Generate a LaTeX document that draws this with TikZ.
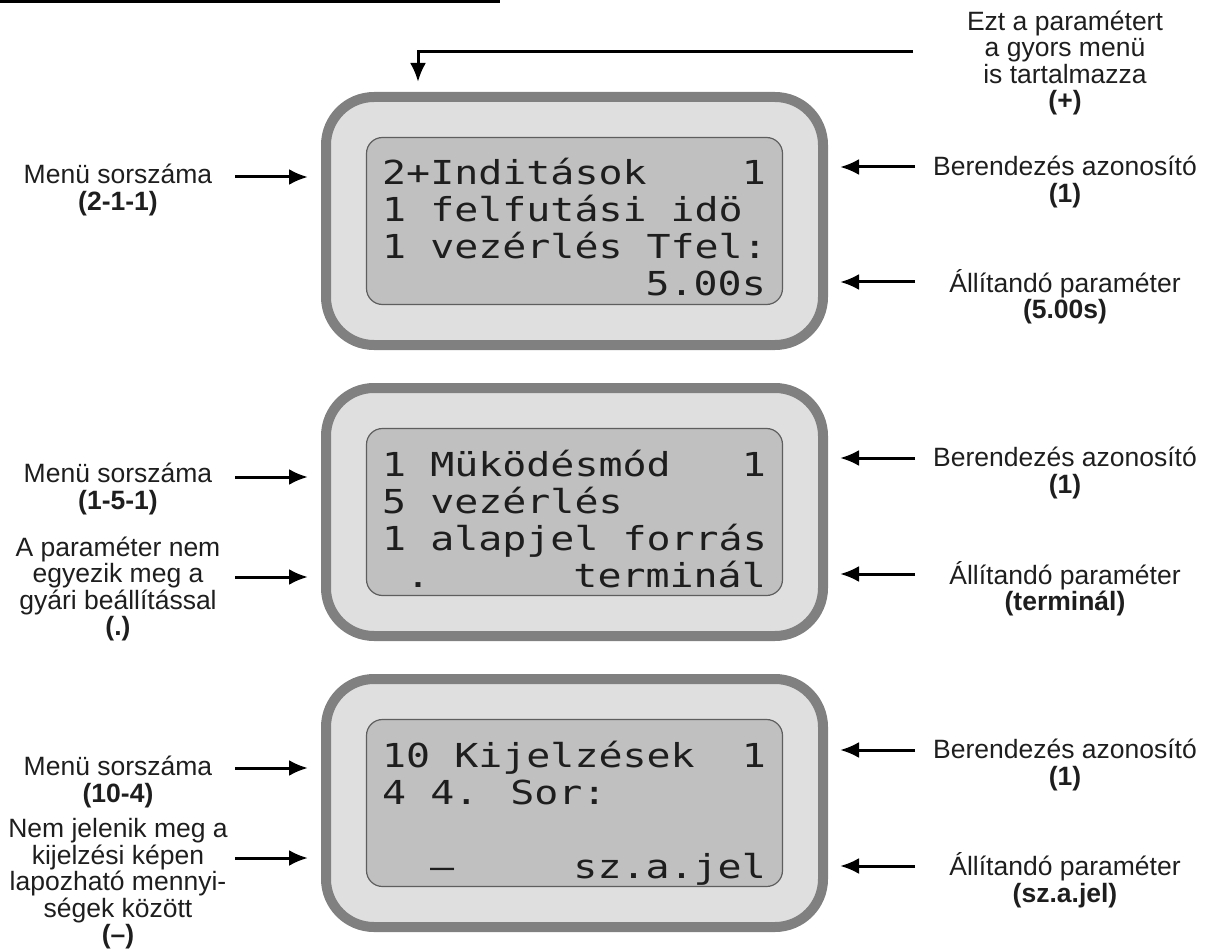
\documentclass[tikz,border=0pt]{standalone}
\usepackage{fontspec}
\setmainfont{Liberation Sans}
\newfontfamily\lcdfont[FakeStretch=1.21]{DejaVu Sans Mono}
\usetikzlibrary{arrows.meta,positioning}
\definecolor{framegray}{HTML}{808080}
\definecolor{bezelgray}{HTML}{DFDFDF}
\definecolor{lcdgray}{HTML}{C0C0C0}
\definecolor{lcdedge}{HTML}{5E5E5E}
\definecolor{lcdink}{HTML}{1E1E1E}

\begin{document}
\begin{tikzpicture}[x=1pt,y=-1pt]
	\tikzstyle{display} = [rectangle, draw=framegray, fill=bezelgray, line width=10pt, outer sep=0pt, rounded corners=48pt, minimum width=497pt, minimum height=248pt]
	\tikzstyle{lcd} = [rectangle, draw=lcdedge, fill=lcdgray, line width=1.2pt, rounded corners=16pt, minimum width=416pt, minimum height=167pt]
	\tikzstyle{row} = [inner sep=0pt, text=lcdink, font=\lcdfont\fontsize{33}{37}\selectfont]
	\tikzstyle{note} = [align=center, inner sep=0pt, text=lcdink, font=\fontsize{26.5}{26.5}\selectfont]
	\tikzstyle{pointer} = [draw, line width=3pt, -{Latex[length=19pt,width=16pt]}]
	\useasboundingbox (0,0) rectangle (1206,949);
	\draw[line width=3pt] (0,1.5) -- (500,1.5);

	% the three displays
	\node [display] (scr1) at (574.5,221) {};
	\node [display, below=43pt of scr1] (scr2) {};
	\node [display, below=43pt of scr2] (scr3) {};
	\node [lcd] (lcd1) at (scr1) {};
	\node [lcd] (lcd2) at (scr2) {};
	\node [lcd] (lcd3) at (scr3) {};

	\begin{scope}[shift={(scr1.center)}]
		\node [row, anchor=base west] (r11) at (-192.5,-36) {2+Inditások};
		\node [row, anchor=base east] (r11b) at (191.5,-36) {1};
		\node [row, anchor=base west] (r12) at (-192.5,1) {1 felfutási idö};
		\node [row, anchor=base west] (r13) at (-192.5,38) {1 vezérlés Tfel:};
		\node [row, anchor=base east] (r14) at (191.5,75) {5.00s};
	\end{scope}
	\begin{scope}[shift={(scr2.center)}]
		\node [row, anchor=base west] (r21) at (-192.5,-36) {1 Müködésmód};
		\node [row, anchor=base east] (r21b) at (191.5,-36) {1};
		\node [row, anchor=base west] (r22) at (-192.5,1) {5 vezérlés};
		\node [row, anchor=base west] (r23) at (-192.5,38) {1 alapjel forrás};
		\node [row, anchor=base west] (r24a) at (-168.5,75) {.};
		\node [row, anchor=base east] (r24) at (191.5,75) {terminál};
	\end{scope}
	\begin{scope}[shift={(scr3.center)}]
		\node [row, anchor=base west] (r31) at (-192.5,-36) {10 Kijelzések};
		\node [row, anchor=base east] (r31b) at (191.5,-36) {1};
		\node [row, anchor=base west] (r32) at (-192.5,1) {4 4. Sor:};
		\node [row, anchor=base west] (r34a) at (-144.5,75) {–};
		\node [row, anchor=base east] (r34) at (191.5,75) {sz.a.jel};
	\end{scope}

	% labels
	\node [note] (quick) at (1065,63) {Ezt a paramétert\\a gyors menü\\is tartalmazza\\\textbf{(+)}};
	\node [note] (ident1) at (1065,182) {Berendezés azonosító\\\textbf{(1)}};
	\node [note] (value1) at (1065,297) {Állítandó paraméter\\\textbf{(5.00s)}};
	\node [note] (ident2) at (1065,473) {Berendezés azonosító\\\textbf{(1)}};
	\node [note] (value2) at (1065,589) {Állítandó paraméter\\\textbf{(terminál)}};
	\node [note] (ident3) at (1065,765) {Berendezés azonosító\\\textbf{(1)}};
	\node [note] (value3) at (1065,880) {Állítandó paraméter\\\textbf{(sz.a.jel)}};
	\node [note] (menu1) at (118,190) {Menü sorszáma\\\textbf{(2-1-1)}};
	\node [note] (menu2) at (118,489) {Menü sorszáma\\\textbf{(1-5-1)}};
	\node [note] (diff2) at (118,589) {A paraméter nem\\egyezik meg a\\gyári beállítással\\\textbf{(.)}};
	\node [note] (menu3) at (118,782) {Menü sorszáma\\\textbf{(10-4)}};
	\node [note] (hide3) at (118,884) {Nem jelenik meg a\\kijelzési képen\\lapozható mennyi-\\ségek között\\\textbf{(–)}};

	% arrow tails
	\coordinate (qt) at (913,52);
	\coordinate (qh) at (418,82);
	\coordinate (i1) at (915,167);
	\coordinate (v1) at (915,282);
	\coordinate (i2) at (915,458);
	\coordinate (v2) at (915,574);
	\coordinate (i3) at (915,750);
	\coordinate (v3) at (915,866);
	\coordinate (m1) at (235,177);
	\coordinate (m2) at (235,477);
	\coordinate (d2) at (235,577);
	\coordinate (m3) at (235,768);
	\coordinate (h3) at (235,858);

	\path[pointer] (qt) -| (qh);
	\path[pointer, shorten >=17pt] (i1) -- (i1 -| scr1.east);
	\path[pointer, shorten >=17pt] (v1) -- (v1 -| scr1.east);
	\path[pointer, shorten >=17pt] (i2) -- (i2 -| scr2.east);
	\path[pointer, shorten >=17pt] (v2) -- (v2 -| scr2.east);
	\path[pointer, shorten >=17pt] (i3) -- (i3 -| scr3.east);
	\path[pointer, shorten >=17pt] (v3) -- (v3 -| scr3.east);
	\path[pointer, shorten >=18pt] (m1) -- (m1 -| scr1.west);
	\path[pointer, shorten >=18pt] (m2) -- (m2 -| scr2.west);
	\path[pointer, shorten >=18pt] (d2) -- (d2 -| scr2.west);
	\path[pointer, shorten >=18pt] (m3) -- (m3 -| scr3.west);
	\path[pointer, shorten >=18pt] (h3) -- (h3 -| scr3.west);
\end{tikzpicture}
\end{document}
